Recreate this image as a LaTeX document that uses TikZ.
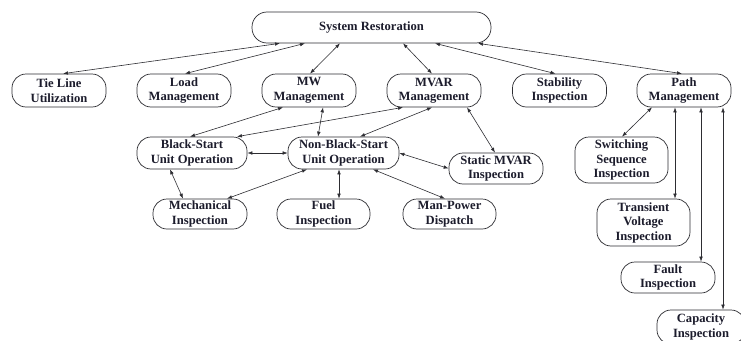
\documentclass[tikz,border=0pt]{standalone}
\usepackage{fontspec}
\setmainfont{Liberation Serif}
\usetikzlibrary{arrows.meta}
\definecolor{inkc}{RGB}{28,28,44}
\definecolor{linec}{RGB}{45,45,50}
\tikzset{
  box/.style={draw=linec, line width=0.7pt, rounded corners=14pt, align=center,
    inner sep=0pt, text=inkc, font=\fontsize{12.6}{14.5}\selectfont\bfseries,
    minimum width=94pt, minimum height=33pt},
  link/.style={draw=linec, line width=0.6pt, {Latex[length=5pt,width=3.6pt]}-{Latex[length=5pt,width=3.6pt]}}
}
\begin{document}
\begin{tikzpicture}[x=1pt,y=-1pt]
\useasboundingbox (0,0) rectangle (741,340);
\clip (0,0) rectangle (741,340);
\fill[white] (0,0) rectangle (741,340);

% top level
\node[box, minimum width=239pt, minimum height=31pt, rounded corners=15pt] (sr) at (371.5,27.5) {System Restoration};

% second row
\node[box] (tl) at (59,90.5) {Tie Line\\Utilization};
\node[box] (lm) at (184,90.5) {Load\\Management};
\node[box] (mw) at (309,90.5) {MW\\Management};
\node[box] (mv) at (434,90.5) {MVAR\\Management};
\node[box] (si) at (559.5,90.5) {Stability\\Inspection};
\node[box] (pm) at (684,90.5) {Path\\Management};

% unit operation row
\node[box, minimum width=110pt, minimum height=32pt] (bs) at (192,153) {Black-Start\\Unit Operation};
\node[box, minimum width=111pt, minimum height=32pt] (nbs) at (343.5,153) {Non-Black-Start\\Unit Operation};
\node[box, minimum height=31pt] (sm) at (496,168.5) {Static MVAR\\Inspection};

% inspection row
\node[box, minimum height=30pt] (me) at (200,214) {Mechanical\\Inspection};
\node[box, minimum width=93pt, minimum height=30pt] (fu) at (323.5,214) {Fuel\\Inspection};
\node[box, minimum width=93pt, minimum height=30pt] (mp) at (449.5,214) {Man-Power\\Dispatch};

% path management column
\node[box, minimum width=93pt, minimum height=46pt] (sw) at (621.5,160) {Switching\\Sequence\\Inspection};
\node[box, minimum width=93pt, minimum height=47pt] (tv) at (643.5,222.5) {Transient\\Voltage\\Inspection};
\node[box, minimum height=31pt] (fi) at (668,277.5) {Fault\\Inspection};
\node[box, minimum width=88pt, minimum height=34pt] (ci) at (701,327) {Capacity\\Inspection};

% links from the top
\draw[link] ([xshift=-91.5pt]sr.south) -- ([xshift=4pt]tl.north);
\draw[link] ([xshift=-66.5pt]sr.south) -- ([xshift=1pt]lm.north);
\draw[link] ([xshift=-31.5pt]sr.south) -- ([xshift=1pt]mw.north);
\draw[link] ([xshift=31.5pt]sr.south) -- ([xshift=-2pt]mv.north);
\draw[link] ([xshift=63.5pt]sr.south) -- ([xshift=-4pt]si.north);
\draw[link] ([xshift=106.5pt]sr.south) -- ([xshift=-2pt]pm.north);

% MW / MVAR management links
\draw[link] ([xshift=-2pt]bs.north) -- ([xshift=-26pt]mw.south);
\draw[link] ([xshift=-25.5pt]nbs.north) -- ([xshift=14pt]mw.south);
\draw[link] ([xshift=45pt]bs.north) -- ([xshift=-31pt]mv.south);
\draw[link] ([xshift=16.5pt]nbs.north) -- ([xshift=-2pt]mv.south);
\draw[link] ([xshift=33pt]mv.south) -- ([xshift=-1pt]sm.north);

% unit operation links
\draw[link] (bs.east) -- (nbs.west);
\draw[link] (nbs.east) -- (sm.west);
\draw[link] ([xshift=-22pt]bs.south) -- ([xshift=-17pt]me.north);
\draw[link] ([xshift=-36.5pt]nbs.south) -- ([xshift=27pt]me.north);
\draw[link] ([xshift=-4.5pt]nbs.south) -- ([xshift=15.5pt]fu.north);
\draw[link] ([xshift=29.5pt]nbs.south) -- ([xshift=-4.5pt]mp.north);

% path management links
\draw[link] ([xshift=-32pt]pm.south) -- ([xshift=0.5pt]sw.north);
\draw[link] ([xshift=-9pt]pm.south) -- ([xshift=31.5pt]tv.north);
\draw[link] ([xshift=17pt]pm.south) -- ([xshift=33pt]fi.north);
\draw[link] ([xshift=39pt]pm.south) -- ([xshift=22pt]ci.north);
\end{tikzpicture}
\end{document}
